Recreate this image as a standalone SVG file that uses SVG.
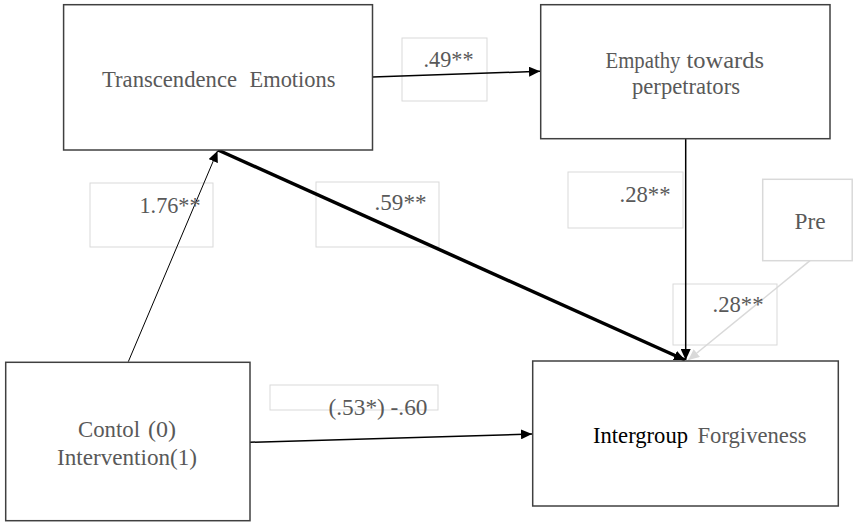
<svg xmlns="http://www.w3.org/2000/svg" width="853" height="522" viewBox="0 0 853 522">
<style>
.node{fill:#fff;stroke:#404040;stroke-width:1.5}
.lbl{fill:#fff;stroke:#d9d9d9;stroke-width:1}
.t{font-family:"Liberation Serif","Times New Roman",serif;font-size:24px;fill:#595959}
.blk{fill:#000}
.c{fill:none;stroke:#000;stroke-width:1.5}
</style>
<defs>
<marker id="ah" markerUnits="userSpaceOnUse" markerWidth="12" markerHeight="10" refX="11" refY="5" orient="auto"><path d="M0,0 L11,5 L0,10 z" fill="#000"/></marker>
<marker id="ahg" markerUnits="userSpaceOnUse" markerWidth="12" markerHeight="10" refX="11" refY="5" orient="auto"><path d="M0,0 L11,5 L0,10 z" fill="#d9d9d9"/></marker>
</defs>
<g id="label-boxes">
<rect class="lbl" x="402" y="38" width="85" height="63"/>
<rect class="lbl" x="90" y="183" width="123" height="64"/>
<rect class="lbl" x="316" y="182" width="123" height="65"/>
<rect class="lbl" x="270" y="385" width="168" height="25"/>
<rect class="lbl" x="568" y="172" width="115" height="56"/>
<rect class="lbl" x="673" y="284" width="104" height="61"/>
</g>
<g id="connectors">
<line class="c" x1="372.5" y1="77" x2="540" y2="71.3" marker-end="url(#ah)"/>
<line x1="128.3" y1="361.7" x2="217.5" y2="151" stroke="#000" stroke-width="1" marker-end="url(#ah)"/>
<line x1="218" y1="150" x2="685" y2="360" stroke="#000" stroke-width="3.5" marker-end="url(#ah)"/>
<line class="c" x1="685.7" y1="138.7" x2="685.7" y2="360" marker-end="url(#ah)"/>
<line x1="810" y1="260.7" x2="688.3" y2="360" stroke="#d9d9d9" stroke-width="1.5" marker-end="url(#ahg)"/>
<line class="c" x1="250" y1="442.3" x2="532" y2="434" marker-end="url(#ah)"/>
</g>
<g id="node-transcendence">
<rect class="node" x="63.6" y="4.7" width="308.9" height="145.3"/>
<text class="t" x="102" y="86.5" textLength="135" lengthAdjust="spacingAndGlyphs">Transcendence</text>
<text class="t" x="249.5" y="86.5" textLength="86" lengthAdjust="spacingAndGlyphs">Emotions</text>
</g>
<g id="node-empathy">
<rect class="node" x="540.7" y="4.7" width="289.3" height="134"/>
<text class="t" x="605.5" y="67.5" textLength="75" lengthAdjust="spacingAndGlyphs">Empathy</text>
<text class="t" x="686.5" y="67.5" textLength="77.5" lengthAdjust="spacingAndGlyphs">towards</text>
<text class="t" x="632" y="94" textLength="108" lengthAdjust="spacingAndGlyphs">perpetrators</text>
</g>
<g id="node-control">
<rect class="node" x="5.7" y="362.3" width="244.3" height="158.4"/>
<text class="t" x="78" y="437" textLength="62" lengthAdjust="spacingAndGlyphs">Contol</text>
<text class="t" x="148" y="437" textLength="28" lengthAdjust="spacingAndGlyphs">(0)</text>
<text class="t" x="57" y="465" textLength="140" lengthAdjust="spacingAndGlyphs">Intervention(1)</text>
</g>
<g id="node-forgiveness">
<rect class="node" x="532.7" y="361" width="305.6" height="145"/>
<text class="t blk" x="593" y="443" textLength="95" lengthAdjust="spacingAndGlyphs">Intergroup</text>
<text class="t" x="697.5" y="443" textLength="109" lengthAdjust="spacingAndGlyphs">Forgiveness</text>
</g>
<g id="node-pre">
<rect x="762.7" y="179.3" width="89.5" height="81.4" fill="#fff" stroke="#d9d9d9" stroke-width="1.5"/>
<text class="t" x="794.5" y="229" textLength="31" lengthAdjust="spacingAndGlyphs">Pre</text>
</g>
<g id="labels">
<text class="t" x="423.5" y="67" textLength="50" lengthAdjust="spacingAndGlyphs">.49**</text>
<text class="t" x="139.5" y="213" textLength="61" lengthAdjust="spacingAndGlyphs">1.76**</text>
<text class="t" x="374.5" y="210" textLength="52" lengthAdjust="spacingAndGlyphs">.59**</text>
<text class="t" x="328.5" y="415" textLength="99" lengthAdjust="spacingAndGlyphs">(.53*) -.60</text>
<text class="t" x="619.5" y="202" textLength="51" lengthAdjust="spacingAndGlyphs">.28**</text>
<text class="t" x="712.5" y="312" textLength="51" lengthAdjust="spacingAndGlyphs">.28**</text>
</g>
</svg>
